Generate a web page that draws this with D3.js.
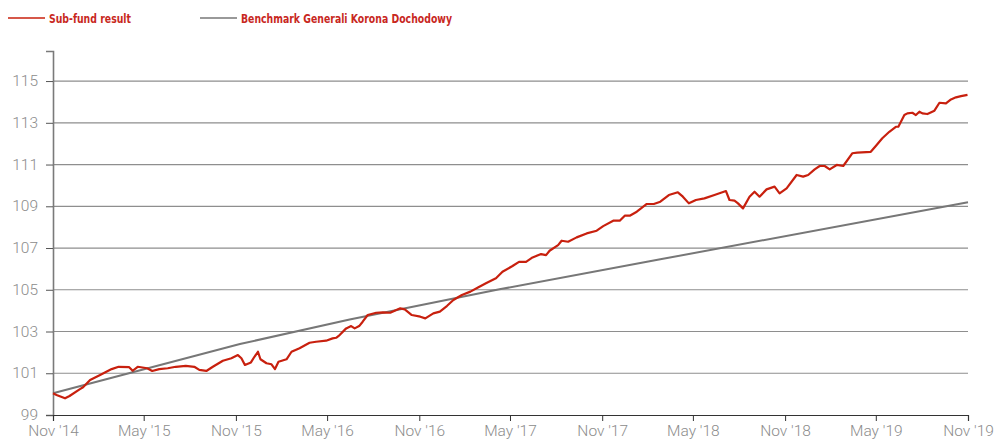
<!DOCTYPE html>
<html>
<head>
<meta charset="utf-8">
<script src="https://cdn.jsdelivr.net/npm/d3@7"></script>
<style>
    body { margin: 0; background: #fff; }
    .axis text { font-family: Roboto, "Liberation Sans", sans-serif; font-weight: 300; font-size: 15.5px; fill: #8c8c8c; }
    .legend text { font-family: "Liberation Sans Narrow", "DejaVu Sans Condensed", sans-serif; font-weight: bold; font-size: 12.5px; fill: #c8281e; }
</style>
</head>
<body>
<svg id="chart" width="997" height="441"></svg>
<script>
// sub-fund result
var fundDates = [
    "2014-11-01", "2014-11-08", "2014-11-25", "2014-12-04", "2014-12-24", "2014-12-31", "2015-01-14", "2015-02-03",
    "2015-02-26", "2015-03-12", "2015-04-02", "2015-04-09", "2015-04-19", "2015-05-08", "2015-05-18", "2015-06-01",
    "2015-06-18", "2015-07-04", "2015-07-24", "2015-08-10", "2015-08-20", "2015-09-03", "2015-09-16", "2015-10-06",
    "2015-10-23", "2015-11-05", "2015-11-12", "2015-11-19", "2015-12-01", "2015-12-08", "2015-12-15", "2015-12-20",
    "2016-01-01", "2016-01-11", "2016-01-18", "2016-01-25", "2016-02-10", "2016-02-20", "2016-03-07", "2016-03-27",
    "2016-04-09", "2016-04-29", "2016-05-12", "2016-05-19", "2016-05-26", "2016-06-08", "2016-06-18", "2016-06-25",
    "2016-07-04", "2016-07-11", "2016-07-21", "2016-08-07", "2016-08-20", "2016-09-04", "2016-09-24", "2016-10-03",
    "2016-10-17", "2016-11-03", "2016-11-13", "2016-11-29", "2016-12-12", "2016-12-26", "2017-01-08", "2017-01-25",
    "2017-02-11", "2017-02-27", "2017-03-14", "2017-04-03", "2017-04-16", "2017-05-06", "2017-05-19", "2017-06-02",
    "2017-06-15", "2017-07-02", "2017-07-12", "2017-07-19", "2017-08-05", "2017-08-12", "2017-08-25", "2017-09-11",
    "2017-10-01", "2017-10-21", "2017-11-03", "2017-11-23", "2017-12-06", "2017-12-16", "2017-12-26", "2018-01-09",
    "2018-01-22", "2018-01-29", "2018-02-12", "2018-02-25", "2018-03-14", "2018-04-01", "2018-04-11", "2018-04-23",
    "2018-05-07", "2018-05-24", "2018-06-13", "2018-07-06", "2018-07-13", "2018-07-23", "2018-07-30", "2018-08-09",
    "2018-08-22", "2018-09-01", "2018-09-11", "2018-09-25", "2018-10-11", "2018-10-21", "2018-11-04", "2018-11-24",
    "2018-12-07", "2018-12-17", "2018-12-30", "2019-01-09", "2019-01-19", "2019-01-29", "2019-02-12", "2019-02-25",
    "2019-03-15", "2019-03-25", "2019-04-21", "2019-05-01", "2019-05-14", "2019-05-28", "2019-06-10", "2019-06-15",
    "2019-06-27", "2019-07-03", "2019-07-13", "2019-07-20", "2019-07-27", "2019-08-02", "2019-08-12", "2019-08-26",
    "2019-09-05", "2019-09-18", "2019-09-28", "2019-10-08", "2019-10-18", "2019-10-31"
];
var fundValues = [
    100.04, 99.96, 99.80, 99.91, 100.23, 100.33, 100.68, 100.92,
    101.20, 101.31, 101.29, 101.12, 101.31, 101.24, 101.11, 101.20,
    101.24, 101.31, 101.35, 101.31, 101.16, 101.11, 101.31, 101.60,
    101.72, 101.87, 101.72, 101.40, 101.52, 101.79, 102.03, 101.67,
    101.48, 101.43, 101.20, 101.55, 101.67, 102.03, 102.20, 102.46,
    102.51, 102.56, 102.67, 102.70, 102.83, 103.15, 103.26, 103.15,
    103.26, 103.47, 103.79, 103.90, 103.92, 103.90, 104.11, 104.06,
    103.79, 103.71, 103.63, 103.87, 103.95, 104.22, 104.51, 104.75,
    104.91, 105.12, 105.31, 105.55, 105.86, 106.14, 106.34, 106.34,
    106.55, 106.71, 106.66, 106.87, 107.14, 107.35, 107.30, 107.51,
    107.70, 107.83, 108.05, 108.31, 108.31, 108.55, 108.55, 108.74,
    108.98, 109.11, 109.11, 109.22, 109.54, 109.67, 109.46, 109.14,
    109.30, 109.38, 109.54, 109.73, 109.30, 109.27, 109.14, 108.90,
    109.46, 109.70, 109.46, 109.81, 109.94, 109.62, 109.86, 110.50,
    110.42, 110.50, 110.77, 110.93, 110.93, 110.77, 110.98, 110.93,
    111.54, 111.57, 111.61, 111.89, 112.26, 112.57, 112.81, 112.81,
    113.37, 113.45, 113.48, 113.37, 113.53, 113.45, 113.42, 113.58,
    113.96, 113.93, 114.12, 114.22, 114.28, 114.34
];

// benchmark (rate changes over time)
var benchDates = ["2014-11-01", "2015-11-09", "2016-06-15", "2017-04-10", "2018-02-25", "2019-11-01"];
var benchValues = [100.04, 102.40, 103.58, 105.02, 106.46, 109.19];

var yTicks = [99, 101, 103, 105, 107, 109, 111, 113, 115];
var xTicks = ["2014-11-01", "2015-05-01", "2015-11-01", "2016-05-01", "2016-11-01", "2017-05-01",
              "2017-11-01", "2018-05-01", "2018-11-01", "2019-05-01", "2019-11-01"];
var legendLabels = ["Sub-fund result", "Benchmark Generali Korona Dochodowy"];

var parse = d3.timeParse("%Y-%m-%d");
var fmt = d3.timeFormat("%b '%y");

var svg = d3.select("#chart"),
    margin = {top: 51, right: 29, bottom: 26, left: 53},
    width = svg.attr("width") - margin.left - margin.right,
    height = svg.attr("height") - margin.top - margin.bottom,
    g = svg.append("g").attr("transform", "translate(" + margin.left + "," + margin.top + ")");

var x = d3.scaleTime()
    .domain([parse(xTicks[0]), parse(xTicks[xTicks.length - 1])])
    .range([0, width]);

var y = d3.scaleLinear()
    .domain([99, 116.44])
    .range([height, 0]);

// gridlines
g.append("g")
    .selectAll("line")
    .data(yTicks.slice(1))
    .enter()
    .append("line")
    .attr("x1", 0)
    .attr("x2", width)
    .attr("y1", function (d) { return y(d); })
    .attr("y2", function (d) { return y(d); })
    .attr("stroke", "#8e8e8e")
    .attr("stroke-width", 1.2);

// y axis
var yAxis = g.append("g")
    .attr("class", "axis")
    .call(d3.axisLeft(y).tickValues(yTicks).tickSize(7).tickPadding(8).tickFormat(d3.format("d")));
yAxis.select(".domain").attr("stroke", "#7a7a7a").attr("stroke-width", 1.6);
yAxis.selectAll(".tick line").attr("stroke", "#555");
yAxis.selectAll(".tick text").attr("dy", "0.3em");

// x axis
var xAxis = g.append("g")
    .attr("class", "axis")
    .attr("transform", "translate(0," + height + ")")
    .call(d3.axisBottom(x).tickValues(xTicks.map(parse)).tickSize(6).tickPadding(4).tickFormat(fmt));
xAxis.select(".domain").attr("stroke", "#333").attr("stroke-width", 1.2);
xAxis.selectAll(".tick line").attr("stroke", "#333");

var line = d3.line()
    .x(function (d) { return x(d[0]); })
    .y(function (d) { return y(d[1]); });

var bench = benchDates.map(function (d, i) { return [parse(d), benchValues[i]]; });
var fund = fundDates.map(function (d, i) { return [parse(d), fundValues[i]]; });

g.append("path")
    .datum(bench)
    .attr("fill", "none")
    .attr("stroke", "#777")
    .attr("stroke-width", 2)
    .attr("d", line);

g.append("path")
    .datum(fund)
    .attr("fill", "none")
    .attr("stroke", "#c8200e")
    .attr("stroke-width", 2.2)
    .attr("stroke-linejoin", "round")
    .attr("d", line);

// legend
var legend = svg.append("g").attr("class", "legend");
var legendX = [8, 200];
var legendWidths = [82, 211];
var legendColors = ["#c8200e", "#777"];
legendLabels.forEach(function (label, i) {
    legend.append("line")
        .attr("x1", legendX[i])
        .attr("x2", legendX[i] + 37)
        .attr("y1", 18)
        .attr("y2", 18)
        .attr("stroke", legendColors[i])
        .attr("stroke-width", 1.5);
    legend.append("text")
        .attr("x", legendX[i] + 41)
        .attr("y", 22.5)
        .attr("textLength", legendWidths[i])
        .attr("lengthAdjust", "spacingAndGlyphs")
        .text(label);
});
</script>
</body>
</html>
